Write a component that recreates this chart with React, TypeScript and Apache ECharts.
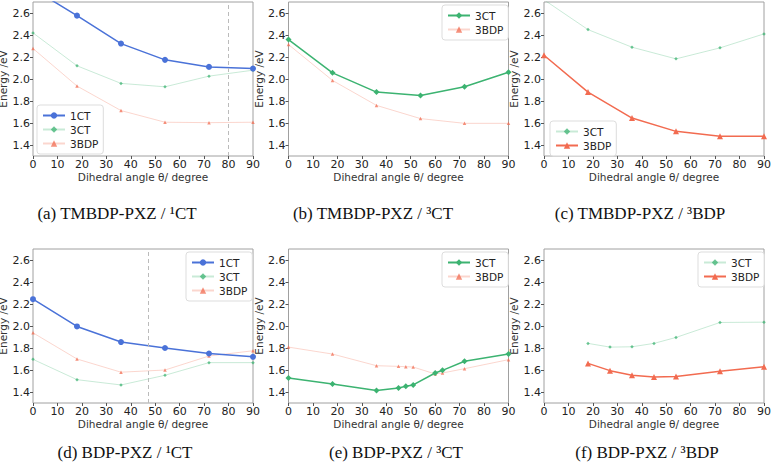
import React, { useEffect, useRef } from "react";
import * as echarts from "echarts";

// ---- data ----
const X_STD = [0, 18, 36, 54, 72, 90];
const A_1CT = [2.82, 2.576, 2.322, 2.174, 2.11, 2.095];
const A_3CT = [2.419, 2.12, 1.96, 1.929, 2.026, 2.08];
const A_3BDP = [2.277, 1.936, 1.713, 1.607, 1.603, 1.607];
const B_3CT = [2.358, 2.056, 1.881, 1.85, 1.929, 2.062];
const B_3BDP = [2.313, 1.987, 1.76, 1.64, 1.597, 1.597];
const C_3CT = [2.72, 2.449, 2.289, 2.183, 2.283, 2.41];
const C_3BDP = [2.216, 1.881, 1.645, 1.524, 1.479, 1.479];
const D_1CT = [2.244, 1.996, 1.854, 1.8, 1.75, 1.72];
const D_3CT = [1.697, 1.512, 1.464, 1.552, 1.667, 1.667];
const D_3BDP = [1.938, 1.7, 1.58, 1.6, 1.727, 1.775];
const X_E = [0, 18, 36, 45, 48, 51, 60, 63, 72, 90];
const E_3CT = [1.527, 1.473, 1.413, 1.437, 1.452, 1.464, 1.573, 1.597, 1.679, 1.745];
const E_3BDP = [1.808, 1.745, 1.639, 1.633, 1.63, 1.627, 1.564, 1.573, 1.612, 1.694];
const X_F = [18, 27, 36, 45, 54, 72, 90];
const F_3CT = [1.842, 1.808, 1.811, 1.842, 1.896, 2.032, 2.035];
const F_3BDP = [1.66, 1.594, 1.552, 1.536, 1.542, 1.588, 1.63];

const A_VLINE = 80;
const D_VLINE = 47;

const Y_TICKS = [1.4, 1.6, 1.8, 2.0, 2.2, 2.4, 2.6];
const CAPTIONS = [
  "(a) TMBDP-PXZ / \u00b9CT",
  "(b) TMBDP-PXZ / \u00b3CT",
  "(c) TMBDP-PXZ / \u00b3BDP",
  "(d) BDP-PXZ / \u00b9CT",
  "(e) BDP-PXZ / \u00b3CT",
  "(f) BDP-PXZ / \u00b3BDP",
];
const X_NAME = "Dihedral angle \u03b8/ degree";
const Y_NAME = "Energy /eV";

// ---- layout ----
const GRID_LEFTS = [33, 288.5, 544];
const GRID_TOPS = [2, 249];
const GRID_W = 220;
const GRID_H = 154;
const CAPTION_X = [117, 373, 640, 125, 396, 647];
const CAPTION_Y = [213, 452];

const COLORS: Record<string, string> = {
  "1CT": "#4a72d8",
  "3CT": "#3cb371",
  "3BDP": "#f26b50",
};
const SYMBOLS: Record<string, string> = {
  "1CT": "circle",
  "3CT": "diamond",
  "3BDP": "triangle",
};

function zip(xs: number[], ys: number[]) {
  return xs.map((x, i) => [x, ys[i]]);
}

function mk(panel: string, kind: string, xs: number[], ys: number[], grid: number, bold: boolean, vline?: number) {
  const c = COLORS[kind];
  const s: any = {
    type: "line",
    name: panel + ":" + kind,
    xAxisIndex: grid,
    yAxisIndex: grid,
    data: zip(xs, ys),
    symbol: SYMBOLS[kind],
    symbolSize: bold ? 6 : 3.5,
    showSymbol: true,
    clip: true,
    lineStyle: { color: c, width: bold ? 1.5 : 1, opacity: bold ? 1 : 0.28 },
    itemStyle: { color: c, opacity: bold ? 1 : 0.75 },
    emphasis: { disabled: true },
    z: bold ? 3 : 2,
  };
  if (vline !== undefined) {
    s.markLine = {
      silent: true,
      symbol: "none",
      label: { show: false },
      lineStyle: { color: "#bbbbbb", type: [4, 3], width: 1 },
      data: [{ xAxis: vline }],
    };
  }
  return s;
}

export default function App() {
  const ref = useRef<HTMLDivElement>(null);
  useEffect(() => {
    document.body.style.margin = "0";
    if (!ref.current) return;
    const chart = echarts.init(ref.current, undefined, { renderer: "svg" });

    const grids: any[] = [];
    const xAxes: any[] = [];
    const yAxes: any[] = [];
    for (let r = 0; r < 2; r++) {
      for (let c = 0; c < 3; c++) {
        const i = r * 3 + c;
        grids.push({
          left: GRID_LEFTS[c],
          top: GRID_TOPS[r],
          width: GRID_W,
          height: GRID_H,
          show: true,
          containLabel: false,
          outerBoundsMode: "none",
          borderColor: "#a0a0a0",
          borderWidth: 1,
          backgroundColor: "transparent",
        });
        xAxes.push({
          type: "value",
          gridIndex: i,
          min: 0,
          max: 90,
          interval: 10,
          name: X_NAME,
          nameLocation: "middle",
          nameGap: 15,
          nameTextStyle: { fontFamily: "DejaVu Sans", fontSize: 10.5, color: "#333" },
          axisLine: { show: false },
          axisTick: { show: true, length: 3, lineStyle: { color: "#555" } },
          axisLabel: { fontFamily: "DejaVu Sans", fontSize: 11, color: "#222", margin: 3 },
          splitLine: { show: false },
        });
        yAxes.push({
          type: "value",
          gridIndex: i,
          min: 1.3,
          max: 2.7,
          name: Y_NAME,
          nameLocation: "middle",
          nameGap: 19,
          nameTextStyle: { fontFamily: "DejaVu Sans", fontSize: 10.5, color: "#333", lineHeight: 11 },
          axisLine: { show: false },
          axisTick: { show: true, length: 3, lineStyle: { color: "#555" }, customValues: Y_TICKS },
          axisLabel: {
            fontFamily: "DejaVu Sans",
            fontSize: 11,
            color: "#222",
            margin: 3,
            customValues: Y_TICKS,
            formatter: (v: number) => v.toFixed(1),
          },
          splitLine: { show: false },
        });
      }
    }

    const series = [
      mk("a", "1CT", X_STD, A_1CT, 0, true, A_VLINE),
      mk("a", "3CT", X_STD, A_3CT, 0, false),
      mk("a", "3BDP", X_STD, A_3BDP, 0, false),
      mk("b", "3CT", X_STD, B_3CT, 1, true),
      mk("b", "3BDP", X_STD, B_3BDP, 1, false),
      mk("c", "3CT", X_STD, C_3CT, 2, false),
      mk("c", "3BDP", X_STD, C_3BDP, 2, true),
      mk("d", "1CT", X_STD, D_1CT, 3, true, D_VLINE),
      mk("d", "3CT", X_STD, D_3CT, 3, false),
      mk("d", "3BDP", X_STD, D_3BDP, 3, false),
      mk("e", "3CT", X_E, E_3CT, 4, true),
      mk("e", "3BDP", X_E, E_3BDP, 4, false),
      mk("f", "3CT", X_F, F_3CT, 5, false),
      mk("f", "3BDP", X_F, F_3BDP, 5, true),
    ];

    const legendBase = {
      orient: "vertical",
      itemWidth: 22,
      itemHeight: 8,
      itemGap: 3,
      padding: [5, 5, 5, 5],
      borderColor: "#dddddd",
      borderWidth: 1,
      borderRadius: 3,
      backgroundColor: "rgba(255,255,255,0.85)",
      selectedMode: false,
      textStyle: { fontFamily: "DejaVu Sans", fontSize: 10.5, color: "#222", lineHeight: 10 },
      formatter: (n: string) => n.split(":")[1],
    };
    const legends = [
      { ...legendBase, left: 37, top: 105, data: ["a:1CT", "a:3CT", "a:3BDP"] },
      { ...legendBase, left: 442, top: 5, data: ["b:3CT", "b:3BDP"] },
      { ...legendBase, left: 550, top: 121, data: ["c:3CT", "c:3BDP"] },
      { ...legendBase, left: 186, top: 252, data: ["d:1CT", "d:3CT", "d:3BDP"] },
      { ...legendBase, left: 442, top: 252, data: ["e:3CT", "e:3BDP"] },
      { ...legendBase, left: 698, top: 252, data: ["f:3CT", "f:3BDP"] },
    ];

    const graphic = CAPTIONS.map((t, i) => ({
      type: "text",
      x: CAPTION_X[i],
      y: CAPTION_Y[Math.floor(i / 3)],
      style: {
        text: t,
        font: "17px 'Liberation Serif'",
        fill: "#111",
        textAlign: "center",
        textVerticalAlign: "middle",
      },
    }));

    chart.setOption({
      animation: false,
      backgroundColor: "#fff",
      grid: grids,
      xAxis: xAxes,
      yAxis: yAxes,
      legend: legends,
      series,
      graphic,
    });
    return () => chart.dispose();
  }, []);
  return <div ref={ref} style={{ width: 771, height: 467 }} />;
}
